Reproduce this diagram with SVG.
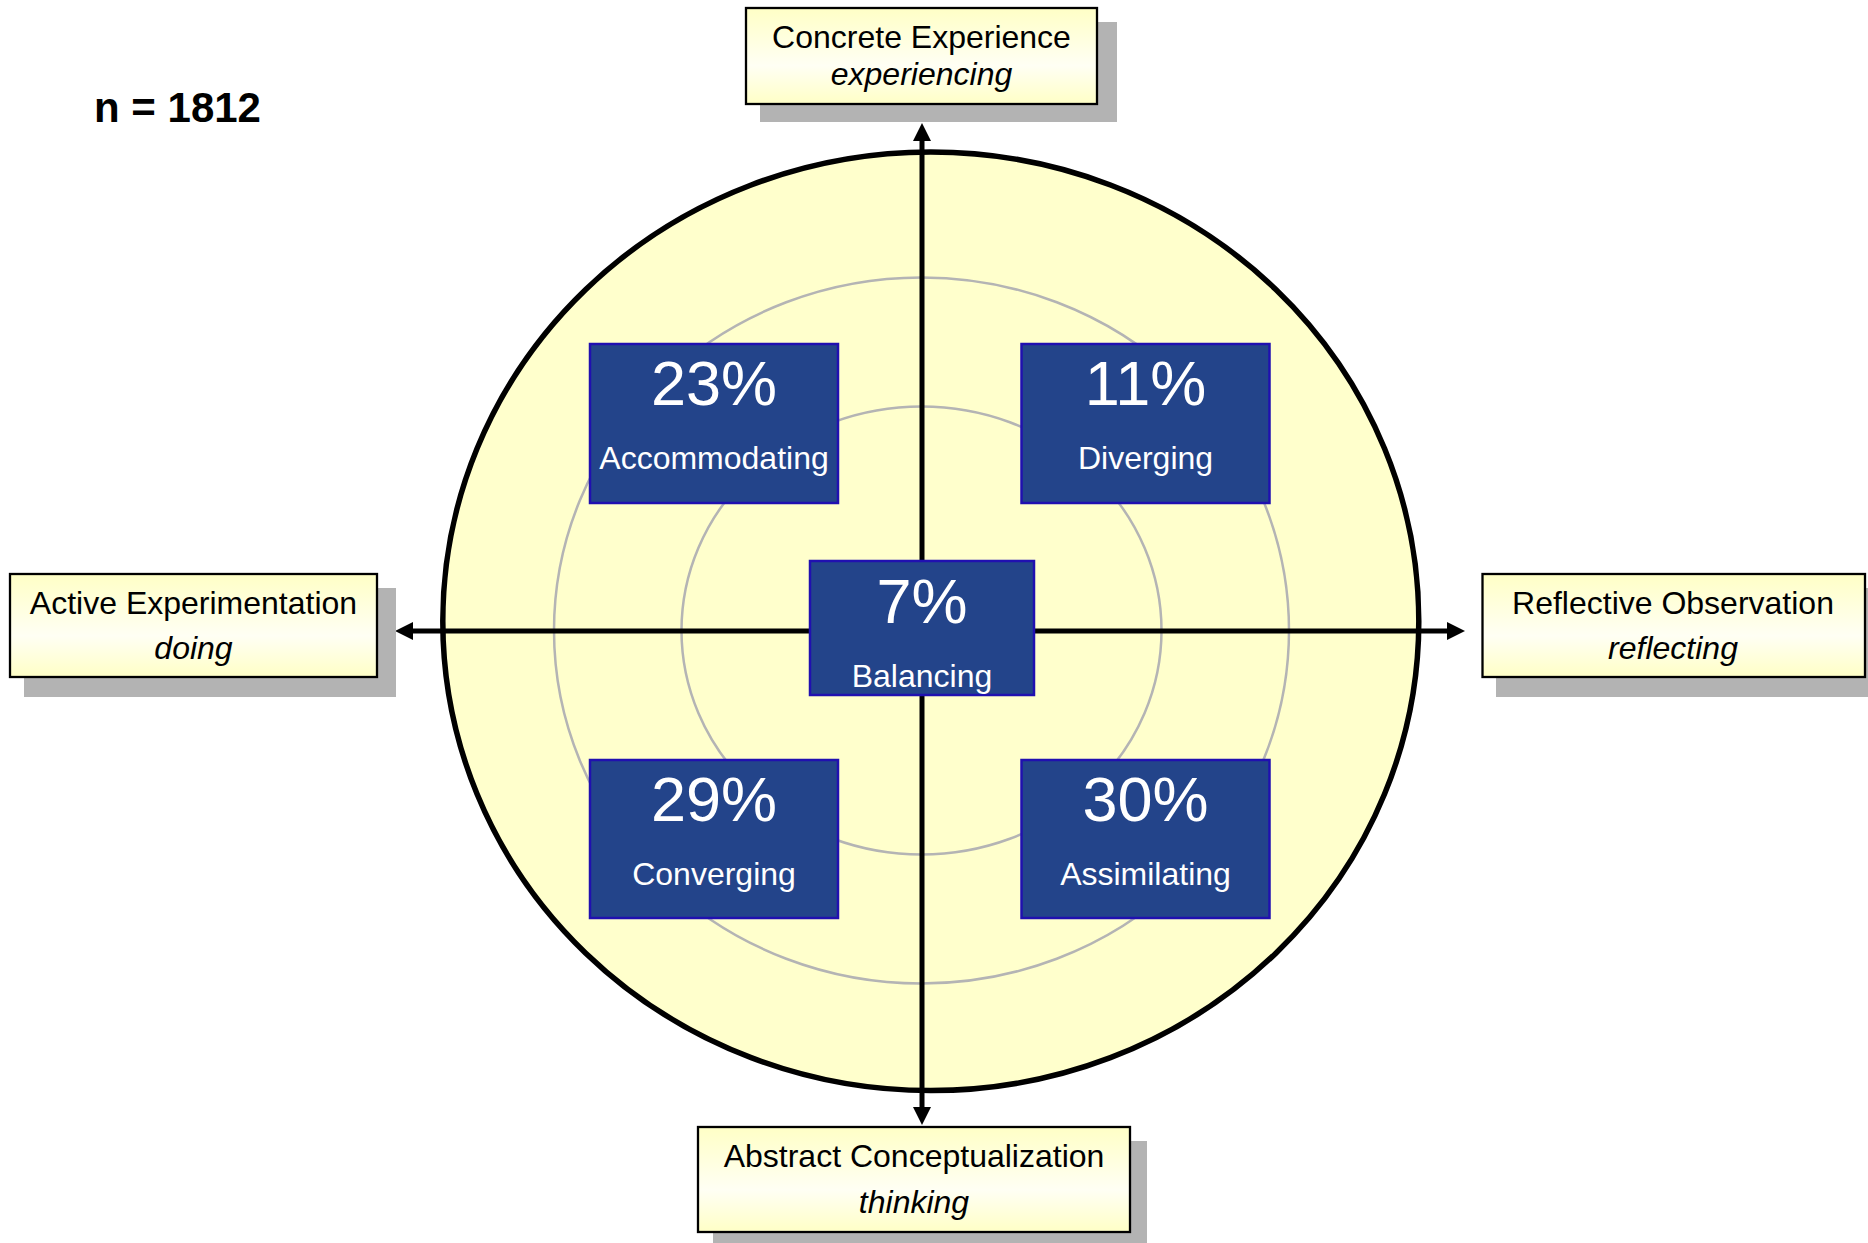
<svg xmlns="http://www.w3.org/2000/svg" width="1868" height="1243" viewBox="0 0 1868 1243">
  <defs>
    <linearGradient id="labelFill" x1="0" y1="0" x2="0" y2="1">
      <stop offset="0" stop-color="#FFFFC6"/>
      <stop offset="0.6" stop-color="#FFFFF4"/>
      <stop offset="1" stop-color="#FFFFC6"/>
    </linearGradient>
    <marker id="arrow" viewBox="0 -9 18 18" refX="0" refY="0" markerWidth="18" markerHeight="18" markerUnits="userSpaceOnUse" orient="auto-start-reverse">
      <path d="M0,-9 L18,0 L0,9 z" fill="#000"/>
    </marker>
  </defs>
  <style>
    .shadow { fill: #B3B3B3; }
    .label { fill: url(#labelFill); stroke: #000; stroke-width: 2.3; }
    .ltxt { font-family: "Liberation Sans", Arial, sans-serif; font-size: 32px; fill: #000; text-anchor: middle; }
    .it { font-style: italic; }
    .style { fill: #23448A; stroke: #2010B0; stroke-width: 2.5; }
    .pct { font-family: "Liberation Sans", Arial, sans-serif; font-size: 63px; fill: #fff; text-anchor: middle; }
    .sname { font-family: "Liberation Sans", Arial, sans-serif; font-size: 32px; fill: #fff; text-anchor: middle; }
    .ring { fill: none; stroke: #B4B4B4; stroke-width: 2.5; }
    .axis { stroke: #000; stroke-width: 5; fill: none; }
  </style>

  <rect width="1868" height="1243" fill="#fff"/>

  <text x="94" y="122" font-family="Liberation Sans, Arial, sans-serif" font-size="42" font-weight="bold" fill="#000">n = 1812</text>

  <g id="background-circle">
    <ellipse cx="930.8" cy="621.3" rx="488" ry="469.3" fill="#FFFFCC" stroke="#000" stroke-width="5.5"/>
    <ellipse class="ring" cx="921.5" cy="630.5" rx="367.5" ry="353"/>
    <ellipse class="ring" cx="921.5" cy="630.5" rx="240" ry="224"/>
  </g>

  <g id="connectors">
    <line class="axis" x1="922" y1="141" x2="922" y2="1107" marker-start="url(#arrow)" marker-end="url(#arrow)"/>
    <line class="axis" x1="413" y1="631" x2="1447" y2="631" marker-start="url(#arrow)" marker-end="url(#arrow)"/>
  </g>

  <g id="concrete-experience">
    <rect class="shadow" x="760" y="22" width="357" height="100"/>
    <rect class="label" x="746" y="8" width="351" height="96"/>
    <text class="ltxt" x="921.5" y="48">Concrete Experience</text>
    <text class="ltxt it" x="921.5" y="85">experiencing</text>
  </g>

  <g id="active-experimentation">
    <rect class="shadow" x="24" y="588" width="372" height="109"/>
    <rect class="label" x="10" y="574" width="367" height="103"/>
    <text class="ltxt" x="193.5" y="614">Active Experimentation</text>
    <text class="ltxt it" x="193.5" y="659">doing</text>
  </g>

  <g id="reflective-observation">
    <rect class="shadow" x="1496" y="588" width="380" height="109"/>
    <rect class="label" x="1482.5" y="574" width="382.5" height="103"/>
    <text class="ltxt" x="1673" y="614">Reflective Observation</text>
    <text class="ltxt it" x="1673" y="659">reflecting</text>
  </g>

  <g id="abstract-conceptualization">
    <rect class="shadow" x="713" y="1141" width="434" height="110"/>
    <rect class="label" x="698" y="1127" width="432" height="105"/>
    <text class="ltxt" x="914" y="1167">Abstract Conceptualization</text>
    <text class="ltxt it" x="914" y="1213">thinking</text>
  </g>

  <g id="accommodating">
    <rect class="style" x="590" y="344" width="248" height="159"/>
    <text class="pct" x="714" y="405">23%</text>
    <text class="sname" x="714" y="469">Accommodating</text>
  </g>

  <g id="diverging">
    <rect class="style" x="1021.5" y="344" width="248" height="159"/>
    <text class="pct" x="1145.5" y="405">11%</text>
    <text class="sname" x="1145.5" y="469">Diverging</text>
  </g>

  <g id="balancing">
    <rect class="style" x="810" y="561" width="224" height="134"/>
    <text class="pct" x="922" y="623">7%</text>
    <text class="sname" x="922" y="687">Balancing</text>
  </g>

  <g id="converging">
    <rect class="style" x="590" y="760" width="248" height="158"/>
    <text class="pct" x="714" y="821">29%</text>
    <text class="sname" x="714" y="885">Converging</text>
  </g>

  <g id="assimilating">
    <rect class="style" x="1021.5" y="760" width="248" height="158"/>
    <text class="pct" x="1145.5" y="821">30%</text>
    <text class="sname" x="1145.5" y="885">Assimilating</text>
  </g>
</svg>
